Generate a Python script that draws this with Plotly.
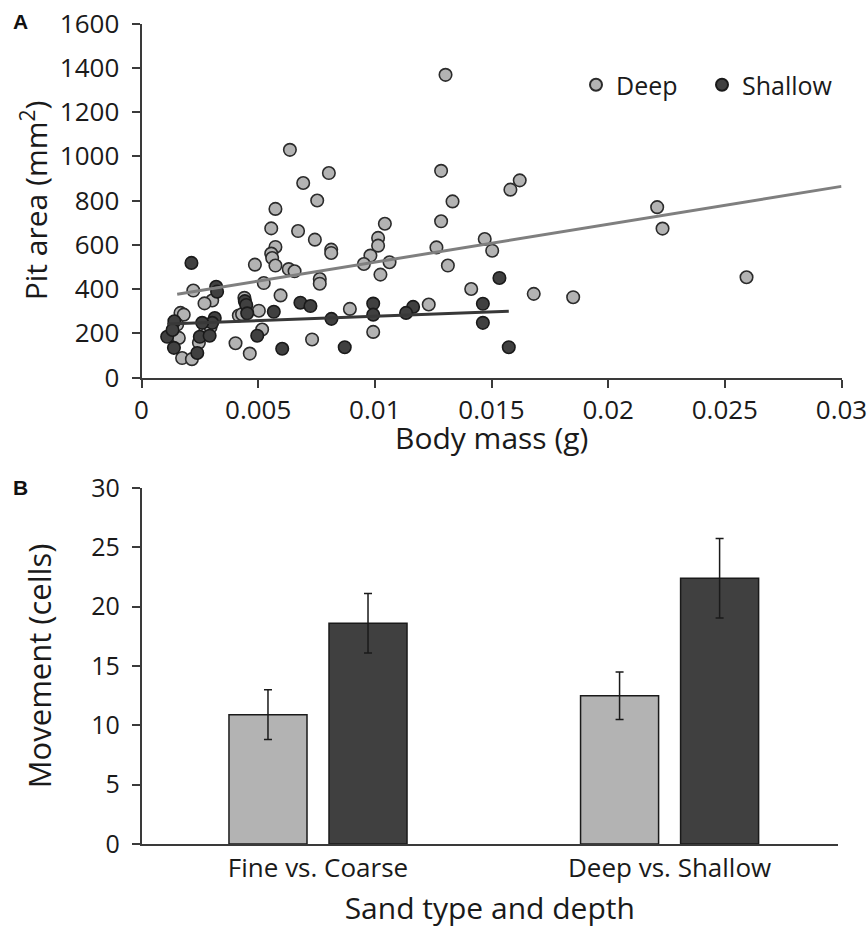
import plotly.graph_objects as go

# ---------------- Panel A data ----------------
deep_mass = [0.00636, 0.00803, 0.00693, 0.00753, 0.00574, 0.00556, 0.00671, 0.00743, 0.00574, 0.00556,
             0.00560, 0.00574, 0.00486, 0.00631, 0.00656, 0.00764, 0.00764, 0.00524, 0.00222, 0.00596,
             0.00303, 0.00270, 0.00441, 0.00503, 0.00417, 0.00431, 0.00167, 0.00181, 0.00153, 0.00274,
             0.00517, 0.00160, 0.00246, 0.00403, 0.00731, 0.00174, 0.00216, 0.00464, 0.01303, 0.01284,
             0.01581, 0.01621, 0.01333, 0.01043, 0.01284, 0.01014, 0.01014, 0.00813, 0.00813, 0.00981,
             0.00953, 0.01063, 0.01024, 0.01264, 0.01471, 0.01503, 0.01313, 0.01413, 0.01681, 0.00893,
             0.01231, 0.00993, 0.02210, 0.02233, 0.02593, 0.01850, 0.00296]
deep_area = [1029, 924, 879, 800, 762, 674, 662, 623, 590, 560,
             540, 506, 510, 490, 480, 445, 424, 427, 393, 371,
             348, 335, 360, 302, 280, 286, 292, 284, 239, 217,
             217, 179, 157, 155, 172, 88, 83, 108, 1368, 934,
             849, 891, 796, 695, 706, 631, 596, 578, 563, 551,
             513, 521, 465, 588, 626, 573, 506, 400, 378, 310,
             330, 206, 770, 673, 453, 363, 228]

shallow_mass = [0.00214, 0.00320, 0.00324, 0.00443, 0.00449, 0.00453, 0.00681, 0.00724, 0.00567, 0.00314,
                0.00303, 0.00260, 0.00141, 0.00110, 0.00250, 0.00292, 0.00139, 0.00239, 0.00496, 0.00603,
                0.01534, 0.00993, 0.00993, 0.01164, 0.01134, 0.00814, 0.01463, 0.01463, 0.00871, 0.01574,
                0.00133]
shallow_area = [518, 410, 388, 345, 328, 290, 338, 323, 297, 269,
                247, 247, 254, 184, 184, 189, 134, 111, 189, 130,
                450, 334, 284, 319, 292, 265, 333, 247, 137, 137,
                215]

# trendline coefficients
deep_slope, deep_intercept = 17128.0, 350.0
shallow_slope, shallow_intercept = 3876.0, 238.0

# ---------------- Panel B data ----------------
bar_categories = ["Fine vs. Coarse", "Deep vs. Shallow"]
light_values = [10.9, 12.5]
light_errors = [2.1, 2.0]
dark_values = [18.6, 22.4]
dark_errors = [2.5, 3.35]

FONT = "Open Sans"
AX = "#3a3a3a"
TXT = "#1a1a1a"

fig = go.Figure()

fig.add_trace(go.Scatter(
    x=deep_mass, y=deep_area, mode="markers", name="Deep", legendwidth=81,
    marker=dict(size=12.5, color="#b3b3b3", line=dict(color="#2b2b2b", width=1.6)),
    xaxis="x", yaxis="y"))
fig.add_trace(go.Scatter(
    x=shallow_mass, y=shallow_area, mode="markers", name="Shallow", legendwidth=100,
    marker=dict(size=12.5, color="#404040", line=dict(color="#1a1a1a", width=1.6)),
    xaxis="x", yaxis="y"))

dx0, dx1 = min(deep_mass), 0.03
fig.add_trace(go.Scatter(
    x=[dx0, dx1], y=[deep_slope * dx0 + deep_intercept, deep_slope * dx1 + deep_intercept],
    mode="lines", line=dict(color="#7f7f7f", width=3), showlegend=False, hoverinfo="skip",
    xaxis="x", yaxis="y"))
sx0, sx1 = min(shallow_mass), max(shallow_mass)
fig.add_trace(go.Scatter(
    x=[sx0, sx1], y=[shallow_slope * sx0 + shallow_intercept, shallow_slope * sx1 + shallow_intercept],
    mode="lines", line=dict(color="#383838", width=3), showlegend=False, hoverinfo="skip",
    xaxis="x", yaxis="y"))

fig.add_trace(go.Bar(
    x=bar_categories, y=light_values, name="light", showlegend=False,
    marker=dict(color="#b3b3b3", line=dict(color="#1a1a1a", width=1.5)),
    error_y=dict(type="data", array=light_errors, color="#1a1a1a", thickness=1.5, width=4),
    xaxis="x2", yaxis="y2"))
fig.add_trace(go.Bar(
    x=bar_categories, y=dark_values, name="dark", showlegend=False,
    marker=dict(color="#404040", line=dict(color="#1a1a1a", width=1.5)),
    error_y=dict(type="data", array=dark_errors, color="#1a1a1a", thickness=1.5, width=4),
    xaxis="x2", yaxis="y2"))

W, H = 867, 928
def px_x(a, b):
    return [a / W, b / W]
def px_y(top, bottom):
    return [1 - bottom / H, 1 - top / H]

fig.update_layout(
    width=W, height=H,
    margin=dict(l=0, r=0, t=0, b=0, autoexpand=False),
    paper_bgcolor="white", plot_bgcolor="white",
    font=dict(family=FONT, color=TXT, size=20),
    barmode="group", bargap=0.431, bargroupgap=0.22,
    showlegend=True,
    legend=dict(orientation="h", x=576 / W, xanchor="left", y=1 - 85 / H, yanchor="middle",
                font=dict(family=FONT, size=25, color=TXT), bgcolor="rgba(0,0,0,0)",
                itemsizing="constant", tracegroupgap=0),
    xaxis=dict(domain=px_x(141.5, 841.5), anchor="y", range=[0, 0.03], dtick=0.005, tick0=0,
               showgrid=False, zeroline=False, showline=True, linecolor=AX, linewidth=2,
               ticks="outside", ticklen=8, tickwidth=1.5, tickcolor=AX, ticklabeloverflow="allow",
               tickfont=dict(family=FONT, size=26, color=TXT)),
    yaxis=dict(domain=px_y(23.5, 377.5), anchor="x", range=[0, 1600], dtick=200,
               showgrid=False, zeroline=False, showline=True, linecolor=AX, linewidth=2,
               ticks="outside", ticklen=8, tickwidth=1.5, tickcolor=AX, ticklabelstandoff=7,
               ticklabeloverflow="allow",
               tickfont=dict(family=FONT, size=26, color=TXT),
               title=dict(text="Pit area (mm<sup>2</sup>)", font=dict(family=FONT, size=30, color=TXT), standoff=3)),
    xaxis2=dict(domain=px_x(141.5, 838), anchor="y2", showgrid=False, zeroline=False,
                range=[-0.502, 1.479],
                showline=True, linecolor=AX, linewidth=2, ticks="",
                tickfont=dict(family=FONT, size=26, color=TXT),
                title=dict(text="Sand type and depth", font=dict(family=FONT, size=30, color=TXT), standoff=19)),
    yaxis2=dict(domain=px_y(488, 844), anchor="x2", range=[0, 30], dtick=5,
                showgrid=False, zeroline=False, showline=True, linecolor=AX, linewidth=1.5,
                ticks="outside", ticklen=8, tickwidth=1.5, tickcolor=AX, ticklabelstandoff=7,
                tickfont=dict(family=FONT, size=25, color=TXT),
                title=dict(text="Movement (cells)", font=dict(family=FONT, size=31, color=TXT), standoff=30)),
    annotations=[
        dict(text="Body mass (g)", x=491.5 / W, y=1 - 437 / H, xref="paper", yref="paper", showarrow=False,
             xanchor="center", yanchor="middle", font=dict(family=FONT, size=30, color=TXT)),
        dict(text="<b>A</b>", x=11 / W, y=1 - 22 / H, xref="paper", yref="paper", showarrow=False,
             xanchor="left", yanchor="middle", font=dict(family="Liberation Sans", size=21, color="#111111")),
        dict(text="<b>B</b>", x=11 / W, y=1 - 487 / H, xref="paper", yref="paper", showarrow=False,
             xanchor="left", yanchor="middle", font=dict(family="Liberation Sans", size=21, color="#111111")),
    ],
)

fig.write_html("out.html", config={"displayModeBar": False},
               post_script="document.body.style.margin='0px';document.body.style.padding='0px';")
